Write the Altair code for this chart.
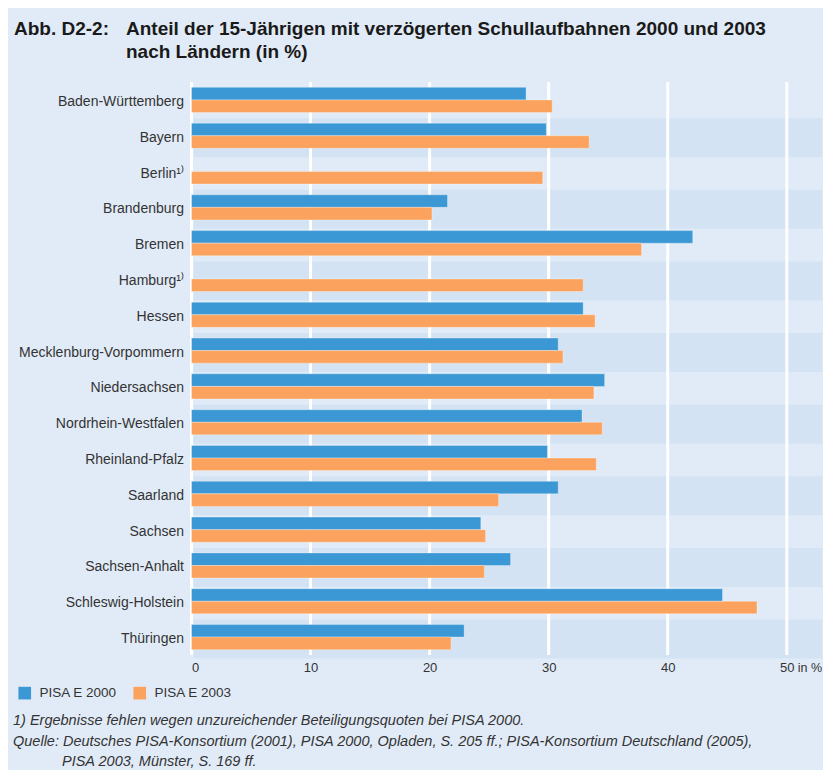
import altair as alt
import pandas as pd

# ---------------- data ----------------
states = [
    "Baden-Württemberg", "Bayern", "Berlin¹⁾", "Brandenburg", "Bremen",
    "Hamburg¹⁾", "Hessen", "Mecklenburg-Vorpommern", "Niedersachsen",
    "Nordrhein-Westfalen", "Rheinland-Pfalz", "Saarland", "Sachsen",
    "Sachsen-Anhalt", "Schleswig-Holstein", "Thüringen",
]
pisa_2000 = [28.1, 29.8, None, 21.5, 42.1, None, 32.9, 30.8, 34.7, 32.8,
             29.9, 30.8, 24.3, 26.8, 44.6, 22.9]
pisa_2003 = [30.3, 33.4, 29.5, 20.2, 37.8, 32.9, 33.9, 31.2, 33.8, 34.5,
             34.0, 25.8, 24.7, 24.6, 47.5, 21.8]
series = ["PISA E 2000", "PISA E 2003"]
colors = ["#3b98d4", "#fba35e"]
x_ticks = [0, 10, 20, 30, 40, 50]
axis_unit = "in %"
title_label = "Abb. D2-2:"
title_lines = [
    "Anteil der 15-Jährigen mit verzögerten Schullaufbahnen 2000 und 2003",
    "nach Ländern (in %)",
]
footnotes = [
    "1) Ergebnisse fehlen wegen unzureichender Beteiligungsquoten bei PISA 2000.",
    "Quelle: Deutsches PISA-Konsortium (2001), PISA 2000, Opladen, S. 205 ff.; PISA-Konsortium Deutschland (2005),",
    "PISA 2003, Münster, S. 169 ff.",
]

# ---------------- tables ----------------
rows = []
for s, a, b in zip(states, pisa_2000, pisa_2003):
    rows.append({"state": s, "series": series[0], "value": a})
    rows.append({"state": s, "series": series[1], "value": b})
df = pd.DataFrame(rows)
band_df = pd.DataFrame({"state": [s for i, s in enumerate(states) if i % 2 == 1]})
tick_df = pd.DataFrame({"tick": x_ticks})

FONT = "Liberation Sans"
W, H = 631, 573
BG = "#e1ebf7"
BAND = "#d4e3f3"
TXT = "#333333"
XMAX = 53

x_scale = alt.Scale(domain=[0, XMAX], nice=False, zero=True)
y_scale = alt.Scale(domain=states, paddingInner=0.3, paddingOuter=0.15)
x_axis = alt.Axis(values=x_ticks, grid=False, domain=False, ticks=False,
                  labelPadding=6, labelFontSize=13, labelColor=TXT,
                  labelFont=FONT, title=None, format="d")
y_axis = alt.Axis(domain=False, ticks=False, labelPadding=8, labelFontSize=14,
                  labelColor=TXT, labelFont=FONT, labelLimit=400, title=None,
                  labelOffset=2)

y_enc = alt.Y("state:N", scale=y_scale, sort=states, axis=y_axis)

bands = alt.Chart(band_df).mark_bar(height=39, color=BAND, yOffset=2).encode(
    x=alt.value(2), x2=alt.value(W), y=y_enc
)

grid = alt.Chart(tick_df).mark_rule(color="white", strokeWidth=3).encode(
    x=alt.X("tick:Q", scale=x_scale, axis=x_axis)
)

bars = alt.Chart(df).mark_bar(
    stroke="white", strokeOpacity=0.3, strokeWidth=1, yOffset=2
).encode(
    x=alt.X("value:Q", scale=x_scale, axis=x_axis),
    y=y_enc,
    yOffset=alt.YOffset("series:N", sort=series,
                        scale=alt.Scale(domain=series, paddingInner=0, paddingOuter=0)),
    color=alt.Color(
        "series:N",
        scale=alt.Scale(domain=series, range=colors),
        legend=alt.Legend(
            title=None, orient="none", legendX=-173.5, legendY=604,
            direction="horizontal", symbolType="square", symbolSize=160,
            symbolStrokeWidth=0, labelFont=FONT, labelFontSize=13.5,
            labelColor=TXT, labelOffset=8, columnPadding=16, padding=0,
        ),
    ),
)

unit = alt.Chart(pd.DataFrame({"t": [axis_unit]})).mark_text(
    align="left", baseline="middle", dx=11, font=FONT, fontSize=12.5, color=TXT
).encode(x=alt.datum(50), y=alt.value(H + 13), text="t:N")

layers = [bands, grid, bars, unit]

layers.append(
    alt.Chart(pd.DataFrame({"t": [title_label]})).mark_text(
        align="left", baseline="alphabetic", font=FONT, fontSize=19,
        fontWeight="bold", color="#1a1a1a"
    ).encode(x=alt.value(-177.5), y=alt.value(-47), text="t:N")
)
for i, line in enumerate(title_lines):
    layers.append(
        alt.Chart(pd.DataFrame({"t": [line]})).mark_text(
            align="left", baseline="alphabetic", font=FONT, fontSize=19,
            fontWeight="bold", color="#1a1a1a"
        ).encode(x=alt.value(-65.5), y=alt.value(-47 + 23 * i), text="t:N")
    )
for i, line in enumerate(footnotes):
    layers.append(
        alt.Chart(pd.DataFrame({"t": [line]})).mark_text(
            align="left", baseline="middle", font=FONT, fontSize=14.5,
            fontStyle="italic", color=TXT
        ).encode(x=alt.value(-178.5 if i < 2 else -129.5),
                 y=alt.value(639 + 20.5 * i), text="t:N")
    )

chart = alt.layer(*layers).properties(
    width=W, height=H,
    padding={"left": 183.5, "top": 74, "right": 0, "bottom": 115},
    autosize=alt.AutoSizeParams(type="none"),
    background=BG,
).configure_view(stroke=None)

chart.save("out.html", embed_options={"renderer": "svg", "actions": False})
